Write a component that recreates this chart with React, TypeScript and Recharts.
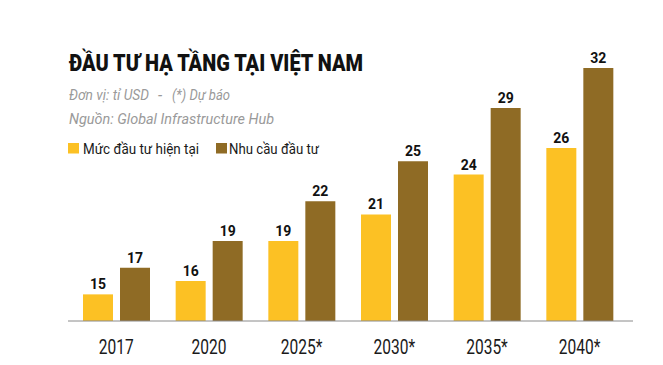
import React from "react";
import { BarChart, Bar, XAxis, YAxis, LabelList } from "recharts";

const years = ["2017", "2020", "2025*", "2030*", "2035*", "2040*"];
const currentInvestment = [15, 16, 19, 21, 24, 26];
const investmentNeed = [17, 19, 22, 25, 29, 32];
const seriesNames = ["Mức đầu tư hiện tại", "Nhu cầu đầu tư"];
const titleText = "ĐẦU TƯ HẠ TẦNG TẠI VIỆT NAM";
const unitText = "Đơn vị: tỉ USD";
const forecastText = "(*) Dự báo";
const sourceText = "Nguồn: Global Infrastructure Hub";

const YELLOW = "#FCC124";
const BROWN = "#8F6B25";
const FONT = "Roboto, 'Noto Sans', sans-serif";

const data = years.map((y, i) => ({
  year: y,
  current: currentInvestment[i],
  need: investmentNeed[i],
}));

const Tick = (props: any) => {
  const { x, y, payload } = props;
  return (
    <g transform={`translate(${x},${y + 25})`}>
      <text
        transform="scale(0.74,1)"
        textAnchor="middle"
        fontFamily={FONT}
        fontSize={21}
        fill="#1a1a1a"
      >
        {payload.value}
      </text>
    </g>
  );
};

const ValueLabel = (props: any) => {
  const { x, y, width, value } = props;
  return (
    <text
      x={x + width / 2}
      y={y - 5}
      textAnchor="middle"
      fontFamily={FONT}
      fontWeight={700}
      fontSize={14}
      fill="#111"
    >
      {value}
    </text>
  );
};

export default function App() {
  return (
    <div
      style={{
        position: "absolute",
        left: 0,
        top: 0,
        width: 663,
        height: 365,
        background: "#fff",
      }}
    >
      <BarChart
        width={663}
        height={365}
        data={data}
        margin={{ top: 68, right: 30, bottom: 14, left: 68 }}
        barSize={30}
        barGap={7}
      >
        <XAxis
          dataKey="year"
          height={30}
          padding={{ left: 2, right: 7 }}
          tickLine={false}
          axisLine={{ stroke: "#8a8a8a", strokeWidth: 1 }}
          tick={<Tick />}
          interval={0}
        />
        <YAxis hide domain={[13, 32]} allowDataOverflow />
        <Bar dataKey="current" fill={YELLOW} isAnimationActive={false}>
          <LabelList dataKey="current" content={<ValueLabel />} />
        </Bar>
        <Bar dataKey="need" fill={BROWN} isAnimationActive={false}>
          <LabelList dataKey="need" content={<ValueLabel />} />
        </Bar>
      </BarChart>
      <svg
        width={663}
        height={365}
        style={{ position: "absolute", left: 0, top: 0, pointerEvents: "none" }}
      >
        <text
          x={69}
          y={71}
          fontFamily={FONT}
          fontWeight={900}
          fontSize={23}
          fill="#111"
          textLength={294}
          lengthAdjust="spacingAndGlyphs"
        >
          {titleText}
        </text>
        <g fontFamily={FONT} fontStyle="italic" fontSize={15.5} fill="#9a9a9a">
          <text x={69} y={100} textLength={80} lengthAdjust="spacingAndGlyphs">
            {unitText}
          </text>
          <text x={158} y={100}>-</text>
          <text x={172} y={100} textLength={58} lengthAdjust="spacingAndGlyphs">
            {forecastText}
          </text>
          <text x={69} y={124} textLength={205} lengthAdjust="spacingAndGlyphs">
            {sourceText}
          </text>
        </g>
        <rect x={68} y={143} width={11} height={10.5} fill={YELLOW} />
        <text
          x={83}
          y={153.5}
          fontFamily={FONT}
          fontSize={15}
          fill="#1a1a1a"
          textLength={116}
          lengthAdjust="spacingAndGlyphs"
        >
          {seriesNames[0]}
        </text>
        <rect x={216} y={143} width={11} height={10.5} fill={BROWN} />
        <text
          x={229}
          y={153.5}
          fontFamily={FONT}
          fontSize={15}
          fill="#1a1a1a"
          textLength={90}
          lengthAdjust="spacingAndGlyphs"
        >
          {seriesNames[1]}
        </text>
      </svg>
    </div>
  );
}
